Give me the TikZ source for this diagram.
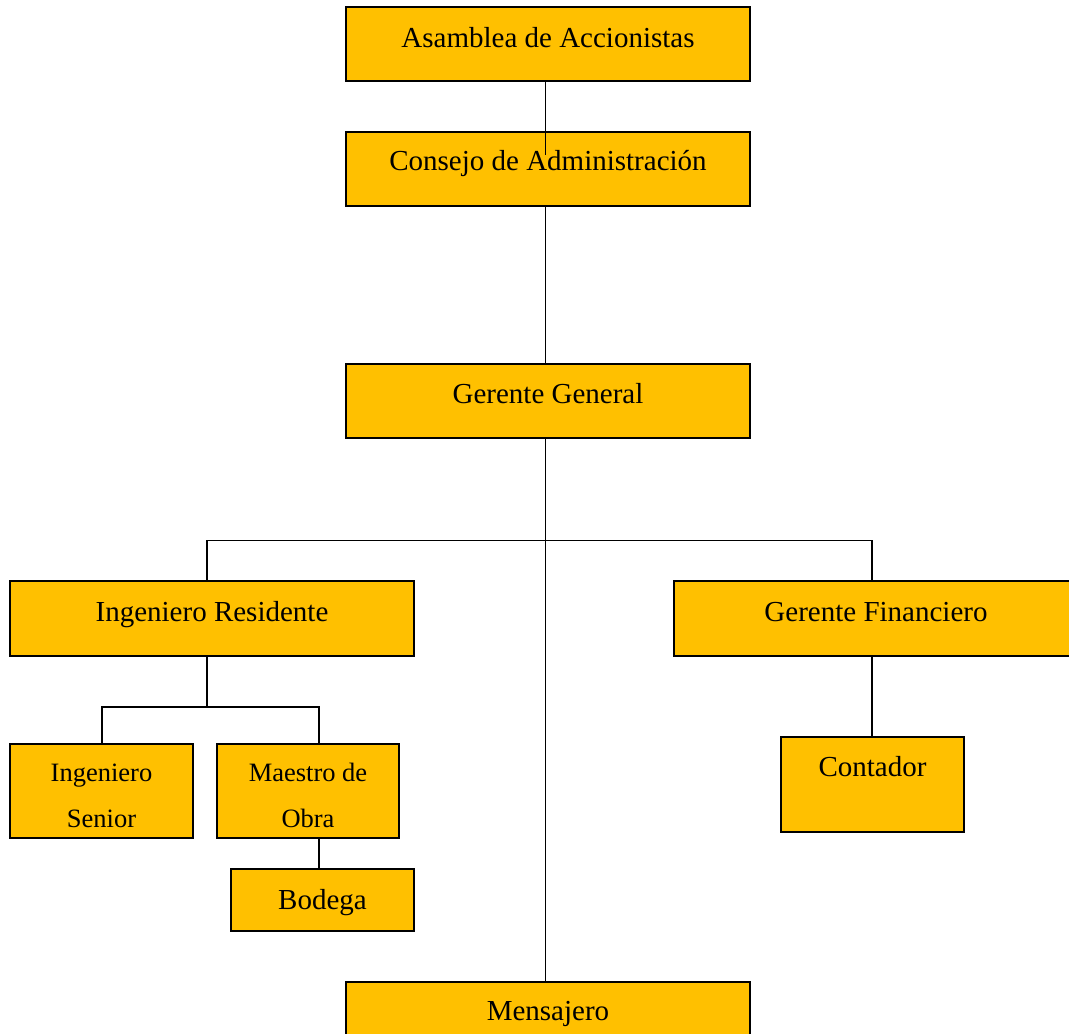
\documentclass[tikz,border=0pt]{standalone}
\usepackage{fontspec}
\setmainfont{Liberation Serif}
\definecolor{boxgold}{RGB}{255,192,0}
\newcommand{\toppad}{\rule{0pt}{27pt}}
\begin{document}
\begin{tikzpicture}[x=1pt,y=-1pt,
  box/.style={draw=black, line width=1.9pt, fill=boxgold, rectangle, inner sep=0pt,
    font=\fontsize{29}{35}\selectfont},
  bigbox/.style={box, minimum width=404pt},
  smallbox/.style={box, minimum width=183pt, minimum height=94pt, align=center,
    font=\fontsize{26.5}{46}\selectfont},
  conn/.style={draw=black, line width=1.5pt}]
\useasboundingbox (0,0) rectangle (1069,1034);
\node[bigbox, text height=40pt, text depth=34pt] (as) at (548,44) {Asamblea de Accionistas};
\node[bigbox, text height=38pt, text depth=36pt] (cons) at (548,169) {Consejo de Administración};
\node[bigbox, text height=39pt, text depth=35pt] (gg) at (548,401) {Gerente General};
\node[bigbox, text height=40pt, text depth=35pt] (ir) at (212,618.5) {Ingeniero Residente};
\node[bigbox, text height=40pt, text depth=35pt] (gf) at (876,618.5) {Gerente Financiero};
\node[smallbox] (sen) at (101.5,791) {\toppad Ingeniero\\Senior};
\node[smallbox, minimum width=182pt] (mae) at (308,791) {\toppad Maestro de\\Obra};
\node[box, minimum width=183pt, text height=40pt, text depth=22pt] (bod) at (322.5,900) {Bodega};
\node[box, minimum width=183pt, text height=39pt, text depth=56pt] (cont) at (872.5,784.5) {Contador};
\node[bigbox, text height=38pt, text depth=36pt] (men) at (548,1019) {Mensajero};
\coordinate (c1) at (545.5,155);
\coordinate (busL) at (207,540.5);
\coordinate (busR) at (872,540.5);
\coordinate (subL) at (102,707);
\coordinate (subR) at (319,707);
\draw[conn] (c1 |- as.south) -- (c1);
\draw[conn] (c1 |- cons.south) -- (c1 |- gg.north);
\draw[conn] (c1 |- gg.south) -- (c1 |- men.north);
\draw[conn] (busL |- ir.north) -- (busL) -- (busR) -- (busR |- gf.north);
\draw[conn] (busR |- gf.south) -- (busR |- cont.north);
\draw[conn] (busL |- ir.south) -- (busL |- subL);
\draw[conn] (subL |- sen.north) -- (subL) -- (subR) -- (subR |- mae.north);
\draw[conn] (subR |- mae.south) -- (subR |- bod.north);
\end{tikzpicture}
\end{document}
